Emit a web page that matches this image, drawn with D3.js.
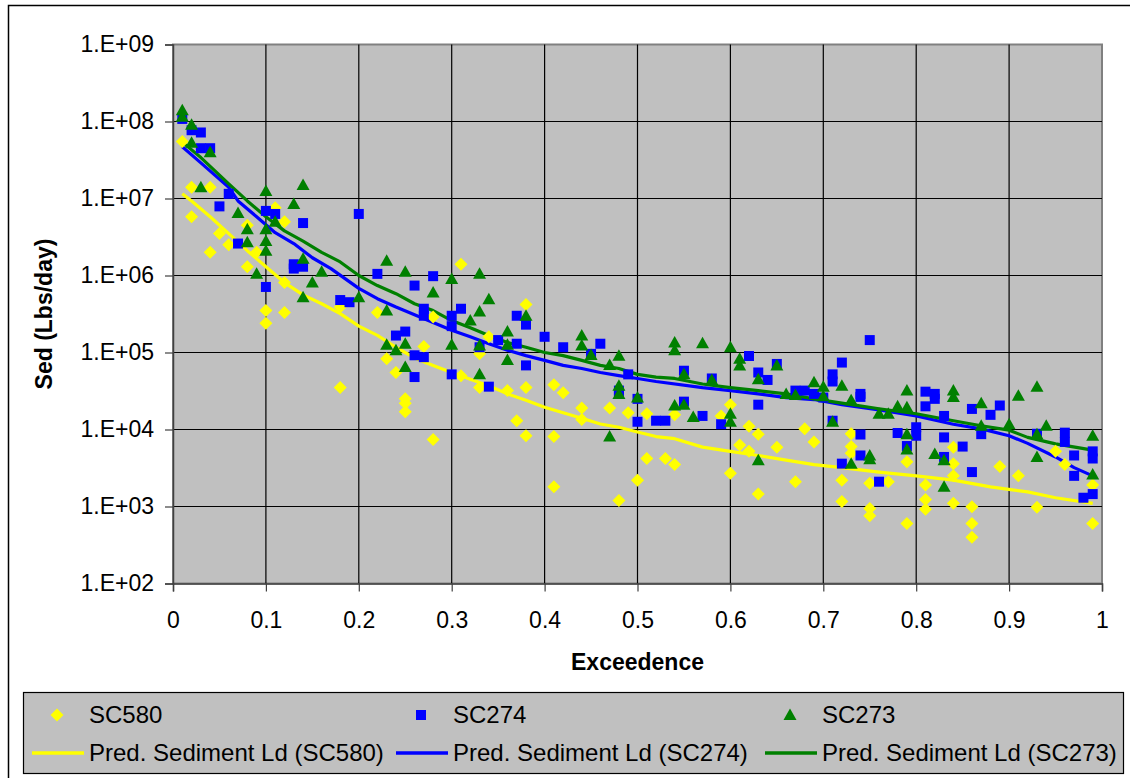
<!DOCTYPE html>
<html>
<head>
<meta charset="utf-8">
<script src="https://cdn.jsdelivr.net/npm/d3@7"></script>
<style>
  body { margin: 0; background: #fff; }
  svg { display: block; font-family: "Liberation Sans", Arial, sans-serif; }
</style>
</head>
<body>
<svg id="chart" width="1130" height="778"></svg>
<script>
// observed loads, [exceedence, lbs/day]
const sc580 = [
  [0.01, 5.5e7], [0.02, 1.4e7], [0.02, 5.8e6], [0.04, 1.4e7], [0.04, 2.0e6], [0.05, 3.5e6],
  [0.06, 2.5e6], [0.08, 4.5e6], [0.08, 1.3e6], [0.09, 2.0e6], [0.10, 3.5e5], [0.10, 2.4e5],
  [0.11, 7.6e6], [0.12, 5.0e6], [0.12, 8.1e5], [0.12, 3.3e5], [0.18, 3.9e5], [0.18, 3.5e4],
  [0.22, 3.3e5], [0.23, 8.3e4], [0.24, 5.5e4], [0.25, 2.5e4], [0.25, 2.2e4], [0.25, 1.7e4],
  [0.27, 1.2e5], [0.28, 2.9e5], [0.28, 7.4e3], [0.31, 1.4e6], [0.31, 5.0e4], [0.33, 9.6e4],
  [0.33, 3.5e4], [0.34, 1.6e5], [0.36, 3.2e4], [0.37, 1.3e4], [0.38, 4.2e5], [0.38, 3.5e4],
  [0.38, 8.3e3], [0.41, 3.8e4], [0.41, 8.1e3], [0.41, 1.8e3], [0.42, 3.0e4], [0.44, 1.9e4],
  [0.44, 1.35e4], [0.47, 1.9e4], [0.48, 1.2e3], [0.49, 1.65e4], [0.50, 2.2e3], [0.51, 1.6e4],
  [0.51, 4.2e3], [0.53, 4.2e3], [0.54, 1.55e4], [0.54, 3.5e3], [0.59, 1.5e4], [0.60, 2.1e4],
  [0.60, 2.7e3], [0.61, 6.3e3], [0.62, 1.1e4], [0.62, 5.2e3], [0.63, 8.7e3], [0.63, 1.45e3],
  [0.65, 5.9e3], [0.67, 2.1e3], [0.68, 1.02e4], [0.69, 6.9e3], [0.72, 2.2e3], [0.72, 1.16e3],
  [0.73, 8.8e3], [0.73, 6.0e3], [0.73, 4.9e3], [0.75, 2.0e3], [0.75, 940], [0.75, 760],
  [0.77, 2.1e3], [0.79, 3.8e3], [0.79, 600], [0.81, 1.9e3], [0.81, 1.23e3], [0.81, 920],
  [0.84, 5.9e3], [0.84, 3.6e3], [0.84, 2.5e3], [0.84, 1.1e3], [0.86, 990], [0.86, 600],
  [0.86, 400], [0.89, 3.3e3], [0.91, 2.5e3], [0.93, 980], [0.95, 5.2e3], [0.96, 3.5e3],
  [0.99, 1.9e3], [0.99, 600]
]

const sc274 = [
  [0.01, 1.08e8], [0.02, 7.7e7], [0.03, 7.2e7], [0.03, 4.5e7], [0.04, 4.5e7], [0.05, 7.9e6],
  [0.06, 1.15e7], [0.07, 2.6e6], [0.10, 6.9e6], [0.10, 7.1e5], [0.11, 6.3e6], [0.13, 1.4e6],
  [0.13, 1.23e6], [0.14, 4.8e6], [0.14, 1.3e6], [0.18, 4.8e5], [0.19, 4.5e5], [0.20, 6.3e6],
  [0.22, 1.05e6], [0.24, 1.66e5], [0.25, 1.87e5], [0.26, 7.4e5], [0.26, 9.2e4], [0.26, 4.8e4],
  [0.27, 3.7e5], [0.27, 3.0e5], [0.27, 8.7e4], [0.28, 9.8e5], [0.30, 3.0e5], [0.30, 2.2e5],
  [0.30, 5.2e4], [0.31, 3.7e5], [0.33, 1.17e5], [0.34, 3.6e4], [0.35, 1.45e5], [0.37, 3.0e5],
  [0.37, 1.3e5], [0.38, 2.3e5], [0.38, 6.8e4], [0.40, 1.6e5], [0.42, 1.17e5], [0.45, 9.6e4],
  [0.46, 1.3e5], [0.48, 3.2e4], [0.48, 2.9e4], [0.49, 5.2e4], [0.50, 2.5e4], [0.50, 1.26e4],
  [0.52, 1.3e4], [0.53, 1.3e4], [0.55, 5.8e4], [0.55, 2.3e4], [0.57, 1.5e4], [0.58, 4.6e4],
  [0.59, 1.17e4], [0.62, 9.0e4], [0.63, 5.5e4], [0.63, 2.1e4], [0.64, 4.4e4], [0.65, 7.1e4],
  [0.67, 3.2e4], [0.68, 3.2e4], [0.69, 2.9e4], [0.70, 2.6e4], [0.71, 5.2e4], [0.71, 4.2e4],
  [0.71, 1.3e4], [0.72, 7.4e4], [0.72, 3.6e3], [0.74, 2.9e4], [0.74, 2.65e4], [0.74, 8.6e3],
  [0.74, 4.6e3], [0.75, 1.45e5], [0.76, 2.1e3], [0.78, 9.0e3], [0.79, 6.1e3], [0.80, 1.07e4],
  [0.80, 8.3e3], [0.81, 3.1e4], [0.81, 2.0e4], [0.82, 2.9e4], [0.82, 2.5e4], [0.83, 1.5e4],
  [0.83, 7.9e3], [0.83, 4.4e3], [0.85, 6.0e3], [0.86, 1.85e4], [0.86, 2.8e3], [0.87, 8.7e3],
  [0.88, 1.55e4], [0.89, 2.05e4], [0.93, 8.8e3], [0.96, 9.1e3], [0.96, 6.9e3], [0.97, 4.6e3],
  [0.97, 2.5e3], [0.98, 1.3e3], [0.99, 5.2e3], [0.99, 4.2e3], [0.99, 1.45e3]
]

const sc273 = [
  [0.01, 1.4e8], [0.01, 1.15e8], [0.02, 9.1e7], [0.02, 5.3e7], [0.03, 1.4e7], [0.04, 4.0e7],
  [0.07, 6.5e6], [0.08, 4.0e6], [0.08, 2.7e6], [0.09, 1.05e6], [0.10, 1.25e7], [0.10, 4.0e6],
  [0.10, 2.8e6], [0.10, 2.1e6], [0.11, 5.0e6], [0.13, 8.5e6], [0.14, 1.5e7], [0.14, 1.65e6],
  [0.14, 5.2e5], [0.15, 8.1e5], [0.16, 1.12e6], [0.20, 5.2e5], [0.23, 1.55e6], [0.23, 3.5e5],
  [0.23, 1.26e5], [0.24, 1.07e5], [0.25, 1.12e6], [0.25, 1.3e5], [0.25, 6.5e4], [0.28, 6.0e5],
  [0.30, 9.0e5], [0.30, 1.26e5], [0.32, 2.6e5], [0.33, 1.05e6], [0.33, 3.4e5], [0.33, 1.23e5],
  [0.33, 5.2e4], [0.34, 4.9e5], [0.36, 1.87e5], [0.36, 1.26e5], [0.36, 8.0e4], [0.38, 3.0e5],
  [0.44, 1.66e5], [0.44, 1.23e5], [0.45, 9.3e4], [0.47, 6.9e4], [0.47, 8.1e3], [0.48, 9.1e4],
  [0.48, 3.7e4], [0.48, 2.9e4], [0.50, 2.6e4], [0.54, 1.35e5], [0.54, 1.07e5], [0.54, 2.05e4],
  [0.55, 5.2e4], [0.55, 2.1e4], [0.56, 1.45e4], [0.57, 1.32e5], [0.58, 4.4e4], [0.60, 1.17e5],
  [0.60, 1.6e4], [0.60, 1.26e4], [0.61, 8.3e4], [0.61, 6.8e4], [0.63, 4.5e4], [0.63, 4.0e3],
  [0.65, 6.8e4], [0.66, 2.9e4], [0.67, 2.8e4], [0.69, 4.1e4], [0.70, 3.6e4], [0.70, 2.7e4],
  [0.71, 1.26e4], [0.72, 3.7e4], [0.73, 2.4e4], [0.73, 3.6e3], [0.75, 4.6e3], [0.75, 4.1e3],
  [0.76, 1.6e4], [0.77, 1.6e4], [0.78, 2.0e4], [0.79, 3.2e4], [0.79, 1.95e4], [0.79, 8.7e3],
  [0.79, 5.5e3], [0.82, 4.8e3], [0.83, 4.0e3], [0.83, 1.8e3], [0.84, 3.2e4], [0.84, 2.65e4],
  [0.87, 2.2e4], [0.87, 1.12e4], [0.90, 1.17e4], [0.91, 2.75e4], [0.93, 3.6e4], [0.93, 8.7e3],
  [0.93, 4.4e3], [0.94, 1.12e4], [0.99, 8.3e3], [0.99, 2.6e3]
]

// predicted sediment load curves
const predSC580 = [
  [0.01, 1.15e7], [0.02, 9.3e6], [0.04, 5.8e6], [0.06, 3.5e6], [0.08, 2.1e6], [0.10, 1.3e6],
  [0.12, 8.1e5], [0.14, 5.6e5], [0.16, 4.3e5], [0.18, 3.2e5], [0.20, 2.2e5], [0.22, 1.67e5],
  [0.24, 1.17e5], [0.26, 8.5e4], [0.28, 6.8e4], [0.30, 5.5e4], [0.32, 4.5e4], [0.34, 3.7e4],
  [0.36, 2.9e4], [0.38, 2.4e4], [0.40, 1.95e4], [0.42, 1.65e4], [0.44, 1.4e4], [0.46, 1.18e4],
  [0.48, 1.07e4], [0.50, 9.3e3], [0.52, 8.1e3], [0.54, 7.6e3], [0.57, 5.9e3], [0.60, 5.2e3],
  [0.63, 4.6e3], [0.66, 4.0e3], [0.69, 3.5e3], [0.72, 3.2e3], [0.76, 2.8e3], [0.80, 2.5e3],
  [0.84, 2.2e3], [0.88, 1.8e3], [0.92, 1.55e3], [0.95, 1.3e3], [0.99, 1.1e3]
]

const predSC274 = [
  [0.01, 4.7e7], [0.03, 2.9e7], [0.06, 1.4e7], [0.07, 9.3e6], [0.09, 5.8e6], [0.11, 3.6e6],
  [0.13, 2.6e6], [0.15, 1.7e6], [0.17, 1.23e6], [0.20, 6.8e5], [0.22, 5.0e5], [0.24, 3.9e5],
  [0.26, 3.1e5], [0.28, 2.45e5], [0.30, 1.95e5], [0.32, 1.6e5], [0.34, 1.3e5], [0.36, 1.07e5],
  [0.38, 9.1e4], [0.40, 7.9e4], [0.42, 6.8e4], [0.44, 6.2e4], [0.46, 5.5e4], [0.48, 5.0e4],
  [0.50, 4.6e4], [0.52, 4.2e4], [0.57, 3.5e4], [0.60, 3.2e4], [0.63, 2.9e4], [0.66, 2.6e4],
  [0.69, 2.45e4], [0.72, 2.1e4], [0.76, 1.8e4], [0.80, 1.5e4], [0.84, 1.17e4], [0.87, 1.02e4],
  [0.90, 8.3e3], [0.92, 6.6e3], [0.95, 4.4e3], [0.97, 3.2e3], [0.99, 2.5e3]
]

const predSC273 = [
  [0.01, 5.4e7], [0.03, 3.4e7], [0.06, 1.55e7], [0.08, 9.3e6], [0.10, 5.8e6], [0.12, 3.8e6],
  [0.14, 2.8e6], [0.16, 2.0e6], [0.18, 1.5e6], [0.20, 1.0e6], [0.22, 7.4e5], [0.24, 5.8e5],
  [0.26, 4.3e5], [0.28, 3.5e5], [0.30, 2.6e5], [0.32, 2.1e5], [0.34, 1.66e5], [0.36, 1.35e5],
  [0.38, 1.17e5], [0.40, 1.0e5], [0.42, 9.1e4], [0.44, 7.9e4], [0.46, 6.8e4], [0.48, 6.2e4],
  [0.50, 5.2e4], [0.52, 4.8e4], [0.54, 4.6e4], [0.57, 3.9e4], [0.60, 3.5e4], [0.63, 3.2e4],
  [0.66, 2.9e4], [0.69, 2.5e4], [0.72, 2.2e4], [0.76, 1.86e4], [0.80, 1.6e4], [0.84, 1.3e4],
  [0.87, 1.12e4], [0.90, 9.8e3], [0.92, 7.9e3], [0.95, 6.5e3], [0.99, 5.4e3]
]

const yTicks = [1e2, 1e3, 1e4, 1e5, 1e6, 1e7, 1e8, 1e9]
const xTicks = [0, 0.1, 0.2, 0.3, 0.4, 0.5, 0.6, 0.7, 0.8, 0.9, 1]

const svg = d3.select('#chart')
const plot = { left: 173, right: 1102, top: 44.5, bottom: 583.5 }

const xScale = d3.scaleLinear().domain([0, 1]).range([plot.left, plot.right])
const yScale = d3.scaleLog().domain([1e2, 1e9]).range([plot.bottom, plot.top])

// outer chart frame
svg.append('rect')
  .attr('x', 8.5).attr('y', 5.5).attr('width', 1130).attr('height', 800)
  .attr('fill', '#fff').attr('stroke', '#000').attr('stroke-width', 1.5)

svg.append('rect')
  .attr('x', plot.left).attr('y', plot.top)
  .attr('width', plot.right - plot.left).attr('height', plot.bottom - plot.top)
  .attr('fill', '#c0c0c0').attr('stroke', '#808080').attr('stroke-width', 2)

// gridlines
svg.append('g')
  .selectAll('line.h')
  .data(yTicks.slice(1, -1))
  .join('line')
  .attr('x1', plot.left).attr('x2', plot.right)
  .attr('y1', d => yScale(d)).attr('y2', d => yScale(d))
  .attr('stroke', '#000').attr('stroke-width', 1.2)

svg.append('g')
  .selectAll('line.v')
  .data(xTicks.slice(1, -1))
  .join('line')
  .attr('x1', d => xScale(d)).attr('x2', d => xScale(d))
  .attr('y1', plot.top).attr('y2', plot.bottom)
  .attr('stroke', '#000').attr('stroke-width', 1.2)

const yAxis = d3.axisLeft(yScale)
  .tickValues(yTicks)
  .tickSize(8)
  .tickPadding(11)
  .tickFormat(d => '1.E+' + String(Math.round(Math.log10(d))).padStart(2, '0'))

const xAxis = d3.axisBottom(xScale)
  .tickValues(xTicks)
  .tickSize(8)
  .tickPadding(20)
  .tickFormat(d => d === 0 || d === 1 ? String(d) : d3.format('.1f')(d))

function styleAxis (g) {
  g.select('.domain').attr('stroke', '#404040').attr('stroke-width', 1.5)
  g.selectAll('.tick line').attr('stroke', '#404040').attr('stroke-width', 1.2)
  g.selectAll('.tick text')
    .attr('fill', '#000')
    .style('font-size', '23px')
    .style('font-family', '"Liberation Sans", Arial, sans-serif')
}

svg.append('g')
  .attr('transform', `translate(${plot.left},0)`)
  .call(yAxis)
  .call(styleAxis)

svg.append('g')
  .attr('transform', `translate(0,${plot.bottom})`)
  .call(xAxis)
  .call(styleAxis)

// axis titles
svg.append('text')
  .attr('transform', `translate(52,${(plot.top + plot.bottom) / 2}) rotate(-90)`)
  .attr('text-anchor', 'middle')
  .style('font-size', '23px').style('font-weight', 'bold')
  .text('Sed (Lbs/day)')

svg.append('text')
  .attr('x', (plot.left + plot.right) / 2).attr('y', 670)
  .attr('text-anchor', 'middle')
  .style('font-size', '23px').style('font-weight', 'bold')
  .text('Exceedence')

// marker shapes
const shapes = {
  diamond: 'M0,-6.5L6.5,0L0,6.5L-6.5,0Z',
  square: 'M-5,-5H5V5H-5Z',
  triangle: 'M0,-6.5L6.5,5H-6.5Z'
}

const lineGen = d3.line()
  .x(d => xScale(d[0]))
  .y(d => yScale(d[1]))

const plotArea = svg.append('g')

const preds = [
  { data: predSC580, color: '#ffff00' },
  { data: predSC274, color: '#0000ff' },
  { data: predSC273, color: '#008000' }
]

preds.forEach(p => {
  plotArea.append('path')
    .datum(p.data)
    .attr('d', lineGen)
    .attr('fill', 'none')
    .attr('stroke', p.color)
    .attr('stroke-width', 3.2)
    .attr('stroke-linejoin', 'round')
})

const obs = [
  { data: sc580, color: '#ffff00', shape: 'diamond' },
  { data: sc274, color: '#0000ff', shape: 'square' },
  { data: sc273, color: '#008000', shape: 'triangle' }
]

obs.forEach(s => {
  plotArea.append('g')
    .selectAll('path')
    .data(s.data)
    .join('path')
    .attr('transform', d => `translate(${xScale(d[0])},${yScale(d[1])})`)
    .attr('d', shapes[s.shape])
    .attr('fill', s.color)
})

// legend
const legend = svg.append('g')
legend.append('rect')
  .attr('x', 23.5).attr('y', 692.5).attr('width', 1100).attr('height', 81)
  .attr('fill', '#c0c0c0').attr('stroke', '#000').attr('stroke-width', 1.2)

const legendCols = [32, 396, 765]
const markerItems = [
  { label: 'SC580', color: '#ffff00', shape: 'diamond' },
  { label: 'SC274', color: '#0000ff', shape: 'square' },
  { label: 'SC273', color: '#008000', shape: 'triangle' }
]
const lineItems = [
  { label: 'Pred. Sediment Ld (SC580)', color: '#ffff00' },
  { label: 'Pred. Sediment Ld (SC274)', color: '#0000ff' },
  { label: 'Pred. Sediment Ld (SC273)', color: '#008000' }
]

markerItems.forEach((m, i) => {
  const x0 = legendCols[i]
  legend.append('path')
    .attr('transform', `translate(${x0 + 25},715)`)
    .attr('d', shapes[m.shape])
    .attr('fill', m.color)
  legend.append('text')
    .attr('x', x0 + 57).attr('y', 723)
    .style('font-size', '24px')
    .text(m.label)
})

lineItems.forEach((m, i) => {
  const x0 = legendCols[i]
  legend.append('line')
    .attr('x1', x0).attr('x2', x0 + 52)
    .attr('y1', 753).attr('y2', 753)
    .attr('stroke', m.color).attr('stroke-width', 3.5)
  legend.append('text')
    .attr('x', x0 + 57).attr('y', 761)
    .style('font-size', '24px')
    .text(m.label)
})
</script>
</body>
</html>
